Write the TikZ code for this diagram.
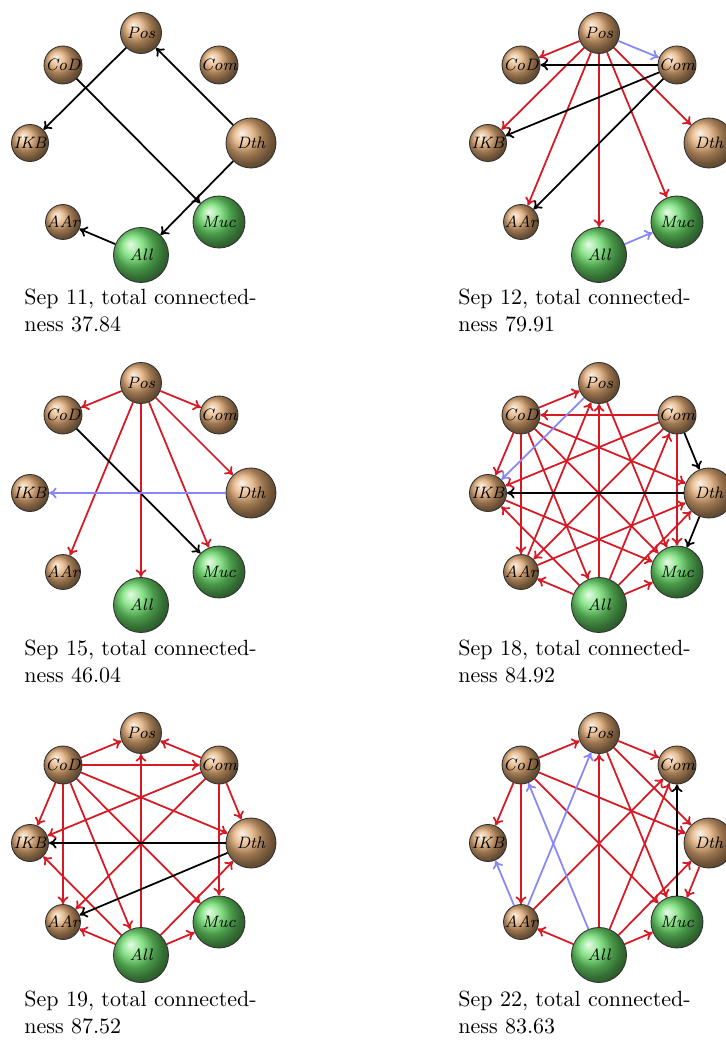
\documentclass[tikz,border=0pt]{standalone}
\usetikzlibrary{arrows.meta}
\definecolor{brn}{RGB}{225,170,115}
\definecolor{grn}{RGB}{105,220,105}
\definecolor{edred}{RGB}{215,25,35}
\definecolor{edblue}{RGB}{135,135,250}
\newcommand\pu{0.4545pt}
\tikzset{
 nball/.style={circle, shading=ball, draw=black!80, line width=0.4pt, inner sep=0pt, font=\fontsize{7.5}{8}\selectfont\itshape},
 bb/.style={nball, ball color=brn},
 gb/.style={nball, ball color=grn},
 edg/.style={-{To[length=3.5pt,width=5pt]}, line width=0.8pt},
 er/.style={edg, draw=edred},
 ek/.style={edg, draw=black},
 eb/.style={edg, draw=edblue},
 captxt/.style={anchor=base west, inner sep=0pt, font=\normalsize},
}
\newcommand\panel[3]{%
 \node[bb, minimum size=41*\pu] (#1Pos) at (#2, #3-110) {Pos};
 \node[bb, minimum size=38*\pu] (#1CoD) at (#2-78, #3-78) {CoD};
 \node[bb, minimum size=38*\pu] (#1Com) at (#2+78, #3-78) {Com};
 \node[bb, minimum size=37*\pu] (#1IKB) at (#2-111, #3) {IKB};
 \node[bb, minimum size=50*\pu] (#1Dth) at (#2+110, #3) {Dth};
 \node[bb, minimum size=34*\pu] (#1AAr) at (#2-78, #3+79) {AAr};
 \node[gb, minimum size=52*\pu] (#1Muc) at (#2+78, #3+79) {Muc};
 \node[gb, minimum size=55*\pu] (#1All) at (#2, #3+112) {All};
}
\newcommand\edges[3]{\foreach \a/\b in {#3} \draw[#2] (#1\a) -- (#1\b);}
\begin{document}
\begin{tikzpicture}[x=0.4545pt, y=-0.4545pt]
\useasboundingbox (0,0) rectangle (726,1055);
\fill[white] (0,0) rectangle (726,1055);
\panel{a}{141}{143}
\panel{b}{599}{143}
\panel{c}{141}{493}
\panel{d}{599}{493}
\panel{e}{141}{843}
\panel{f}{599}{843}
% Sep 11
\edges{a}{ek}{Pos/IKB, Dth/Pos, CoD/Muc, Dth/All, All/AAr}
% Sep 12
\edges{b}{er}{Pos/CoD, Pos/IKB, Pos/AAr, Pos/All, Pos/Muc, Pos/Dth}
\edges{b}{ek}{Com/CoD, Com/IKB, Com/AAr}
\edges{b}{eb}{Pos/Com, All/Muc}
% Sep 15
\edges{c}{er}{Pos/CoD, Pos/Com, Pos/Dth, Pos/Muc, Pos/All, Pos/AAr}
\edges{c}{ek}{CoD/Muc}
\edges{c}{eb}{Dth/IKB}
% Sep 18
\edges{d}{er}{CoD/Pos, Com/CoD, CoD/IKB, CoD/AAr, CoD/All, CoD/Muc, CoD/Dth, Com/IKB, Com/AAr, Com/Muc, All/Pos, Pos/Muc, AAr/Pos, All/AAr, All/Muc, All/IKB, All/Com, All/Dth, IKB/Muc, AAr/Dth}
\edges{d}{ek}{Com/Dth, Dth/Muc, Dth/IKB}
\edges{d}{eb}{Pos/IKB}
% Sep 19
\edges{e}{er}{CoD/Pos, Com/Pos, CoD/Com, CoD/IKB, CoD/AAr, CoD/Dth, CoD/Muc, CoD/All, Com/IKB, Com/AAr, Com/Dth, Com/Muc, All/Pos, All/IKB, All/AAr, All/Muc, All/Dth}
\edges{e}{ek}{Dth/IKB, Dth/AAr}
% Sep 22
\edges{f}{er}{CoD/Pos, Pos/Com, Pos/Dth, Pos/Muc, CoD/IKB, CoD/AAr, CoD/Dth, CoD/Muc, AAr/Com, All/Pos, All/Com, All/Dth, All/Muc, All/AAr, Dth/Muc}
\edges{f}{ek}{Muc/Com}
\edges{f}{eb}{AAr/Pos, All/CoD, AAr/IKB}
% captions
\node[captxt] (c1a) at (24,305) {Sep 11, total connected-};
\node[captxt] (c1b) at (24,332) {ness 37.84};
\node[captxt] (c2a) at (458,305) {Sep 12, total connected-};
\node[captxt] (c2b) at (458,332) {ness 79.91};
\node[captxt] (c3a) at (24,655) {Sep 15, total connected-};
\node[captxt] (c3b) at (24,682) {ness 46.04};
\node[captxt] (c4a) at (458,655) {Sep 18, total connected-};
\node[captxt] (c4b) at (458,682) {ness 84.92};
\node[captxt] (c5a) at (24,1006) {Sep 19, total connected-};
\node[captxt] (c5b) at (24,1033) {ness 87.52};
\node[captxt] (c6a) at (458,1006) {Sep 22, total connected-};
\node[captxt] (c6b) at (458,1033) {ness 83.63};
\end{tikzpicture}
\end{document}
